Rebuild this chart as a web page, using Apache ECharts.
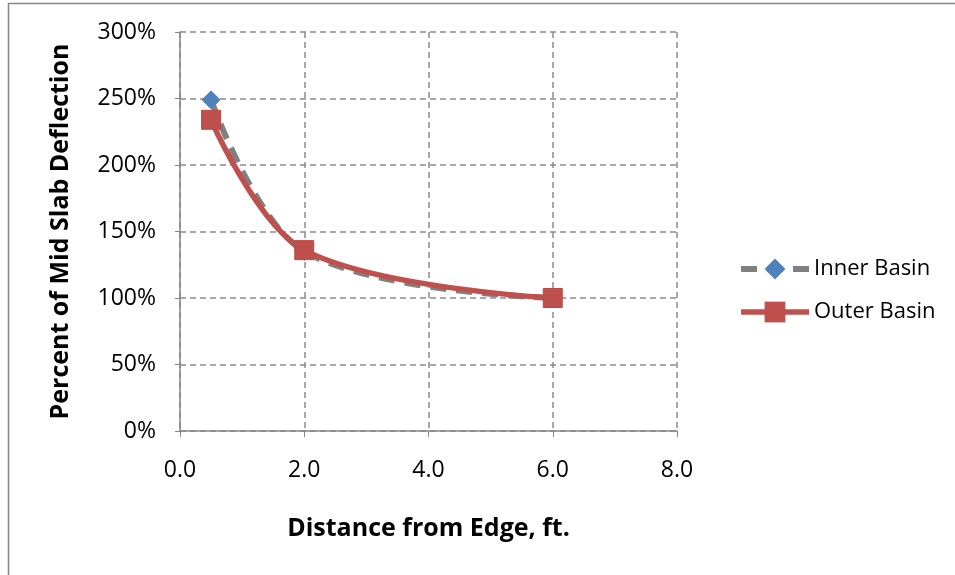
<!DOCTYPE html>
<html><head><meta charset="utf-8">
<script src="https://cdn.jsdelivr.net/npm/echarts@6/dist/echarts.min.js"></script>
<style>html,body{margin:0;padding:0;background:#fff}#c{width:955px;height:575px}</style>
</head><body><div id="c"></div>
<script>
const xInner = [0.5, 2, 6];
const yInner = [249, 135, 100];
const xOuter = [0.5, 2, 6];
const yOuter = [234, 136, 100];
const xTicks = [0, 2, 4, 6, 8];
const yTicks = [0, 50, 100, 150, 200, 250, 300];

const font = "'Open Sans',sans-serif";
const chart = echarts.init(document.getElementById('c'));
chart.setOption({
  animation: false,
  graphic: [{type:'rect', shape:{x:8.5,y:3.5,width:960,height:580}, style:{fill:'none', stroke:'#868686', lineWidth:1.5}}],
  grid: {left:180, right:278, top:32, bottom:144},
  legend: {
    orient:'vertical', left:733, top:253, itemGap:21, itemWidth:68, itemHeight:26, itemGap:21,
    textStyle:{fontFamily:font, fontSize:22, color:'#000'},
    data:[
      {name:'Inner Basin', lineStyle:{width:6}},
      {name:'Outer Basin', lineStyle:{width:5.5}}
    ]
  },
  xAxis: {
    type:'value', min:0, max:8, interval:2,
    name:'Distance from Edge, ft.', nameLocation:'middle', nameGap:85,
    nameTextStyle:{fontFamily:font, fontSize:25, fontWeight:'bold', color:'#000'},
    axisLine:{lineStyle:{color:'#868686', width:1.5}},
    axisTick:{show:true, inside:false, length:6, lineStyle:{color:'#868686'}},
    axisLabel:{fontFamily:font, fontSize:23, color:'#000', margin:28, formatter:v=>v.toFixed(1)},
    splitLine:{show:true, lineStyle:{color:'#8c8c8c', type:[6,4], width:1.5}}
  },
  yAxis: {
    type:'value', min:0, max:300, interval:50,
    name:'Percent of Mid Slab Deflection', nameLocation:'middle', nameGap:107,
    nameTextStyle:{fontFamily:font, fontSize:25, fontWeight:'bold', color:'#000'},
    axisLine:{show:true, lineStyle:{color:'#868686', width:1.5}},
    axisTick:{show:true, length:5, lineStyle:{color:'#868686'}},
    axisLabel:{fontFamily:font, fontSize:23, color:'#000', margin:24, formatter:v=>v+'%'},
    splitLine:{show:true, lineStyle:{color:'#8c8c8c', type:[6,4], width:1.5}}
  },
  series: [
    {name:'Inner Basin', type:'line', smooth:0.35, data:xInner.map((x,i)=>[x,yInner[i]]),
     symbol:'diamond', symbolSize:18,
     lineStyle:{color:'#808080', width:6, type:[16,10]},
     itemStyle:{color:'#4F81BD', borderColor:'#4F81BD'}},
    {name:'Outer Basin', type:'line', smooth:0.35, data:xOuter.map((x,i)=>[x,yOuter[i]]),
     symbol:'rect', symbolSize:19,
     lineStyle:{color:'#C0504D', width:5.5},
     itemStyle:{color:'#C0504D', borderColor:'#B84A47'}}
  ]
});
</script></body></html>
